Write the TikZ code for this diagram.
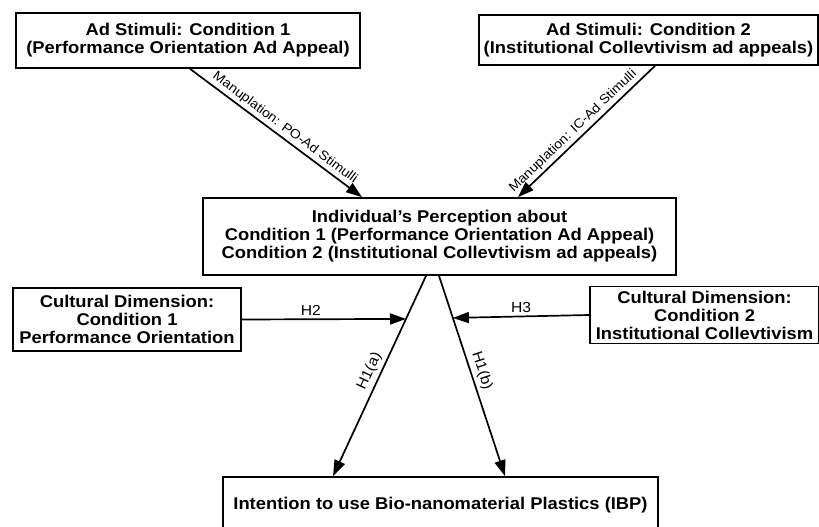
\documentclass[tikz,border=0pt]{standalone}
\usepackage{fontspec}
\setmainfont{Liberation Sans}[FakeStretch=1.08]
\usetikzlibrary{arrows.meta}

\tikzset{
    box/.style={draw, line width=1.7pt, align=center, inner sep=0pt,
        font=\fontsize{17}{18}\selectfont\bfseries},
    arr/.style={line width=1.7pt, -{Triangle[length=16pt, width=11pt]}},
    lbl/.style={font=\fontsize{13}{15}\selectfont, inner sep=2.5pt},
    hlbl/.style={font=\fontsize{14.5}{16}\selectfont}
}

\begin{document}
\begin{tikzpicture}[x=1pt, y=-1pt]
\useasboundingbox (0, 0) rectangle (819, 527);

\node[box, minimum width=344pt, minimum height=55pt] (adone) at (188.0, 40.5)
    {Ad Stimuli: Condition 1\\(Performance Orientation Ad Appeal)};
\node[box, minimum width=339pt, minimum height=50pt] (adtwo) at (648.5, 40.0)
    {Ad Stimuli: Condition 2\\(Institutional Collevtivism ad appeals)};
\node[box, minimum width=473pt, minimum height=77pt] (perc) at (439.5, 236.5)
    {Individual{\char"27}s Perception about\\Condition 1 (Performance Orientation Ad Appeal)\\Condition 2 (Institutional Collevtivism ad appeals)};
\node[box, minimum width=228pt, minimum height=63pt] (cdone) at (127.0, 319.5)
    {Cultural Dimension:\\Condition 1\\Performance Orientation};
\node[box, minimum width=229pt, minimum height=57pt] (cdtwo) at (704.5, 315.0)
    {Cultural Dimension:\\Condition 2\\Institutional Collevtivism};
\node[box, minimum width=435pt, minimum height=56pt] (ibp) at (440.5, 505.0)
    {Intention to use Bio-nanomaterial Plastics (IBP)};

\draw[arr]
    ([xshift=2pt]adone.south) -- node[lbl, pos=0.52, above, sloped] {Manuplation: PO-Ad Stimulli}
    ([xshift=-77.5pt]perc.north);
\draw[arr]
    ([xshift=6.5pt]adtwo.south) -- node[lbl, pos=0.55, above, sloped] {Manuplation: IC-Ad Stimulli}
    ([xshift=78.5pt]perc.north);

\draw[arr]
    ([xshift=-13.5pt]perc.south) -- node[hlbl, pos=0.5, above, sloped] {H1(a)}
    coordinate[pos=0.215] (hta) ([xshift=-107.5pt]ibp.north);
\draw[arr]
    ([xshift=-0.5pt]perc.south) -- node[hlbl, pos=0.49, above, sloped] {H1(b)}
    coordinate[pos=0.21] (htb) ([xshift=64.5pt]ibp.north);

\draw[arr]
    (cdone.east) -- node[hlbl, pos=0.42, above] {H2} (hta);
\draw[arr]
    (cdtwo.west) -- node[hlbl, midway, above] {H3} (htb);
\end{tikzpicture}
\end{document}
